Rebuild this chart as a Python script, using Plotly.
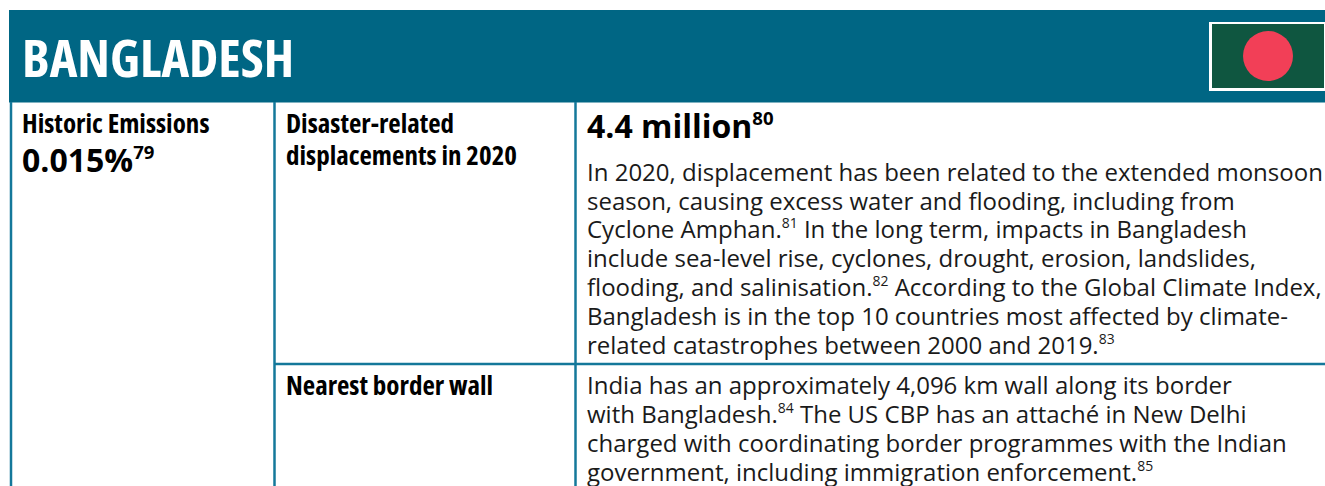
import plotly.graph_objects as go

# text content
country = "BANGLADESH"
emissions_label = "Historic Emissions"
emissions_value = "0.015%"
emissions_note = "79"
displacement_label = ["Disaster-related", "displacements in 2020"]
displacement_value = "4.4 million"
displacement_note = "80"
displacement_lines = [
    "In 2020, displacement has been related to the extended monsoon",
    "season, causing excess water and flooding, including from",
    "Cyclone Amphan.[81] In the long term, impacts in Bangladesh",
    "include sea-level rise, cyclones, drought, erosion, landslides,",
    "flooding, and salinisation.[82] According to the Global Climate Index,",
    "Bangladesh is in the top 10 countries most affected by climate-",
    "related catastrophes between 2000 and 2019.[83]",
]
wall_label = "Nearest border wall"
wall_lines = [
    "India has an approximately 4,096 km wall along its border",
    "with Bangladesh.[84] The US CBP has an attaché in New Delhi",
    "charged with coordinating border programmes with the Indian",
    "government, including immigration enforcement.[85]",
]

HEADER = "#006684"
RULE = "#14789a"
BODY_FONT = "Open Sans"
NOTE_OPEN = '<sup><span style="font-size:83%">'  # plotly's sup is 70%, the notes are nearer 58%
NOTE_CLOSE = "</span></sup>"


def condensed(text):
    return f'<span style="font-stretch:75%">{text}</span>'


def notes_in(line):
    return line.replace("[", NOTE_OPEN).replace("]", NOTE_CLOSE)


fig = go.Figure()


def add_text(x, y, text, size, color="#1a1a1a", bold=False):
    # an anchor below the plot would hide the text, so push it down with yshift
    anchor_y = min(y, 480)
    fig.add_annotation(
        x=x, y=anchor_y, yshift=anchor_y - y, text=f"<b>{text}</b>" if bold else text,
        xref="x", yref="y", xanchor="left", yanchor="bottom", showarrow=False,
        align="left", borderpad=0,
        font=dict(family=BODY_FONT, size=size, color=color),
    )


# header band and flag
fig.add_shape(type="rect", x0=9, x1=1325, y0=10, y1=102.5, fillcolor=HEADER, line_width=0, layer="below")
fig.add_shape(type="rect", x0=1209, x1=1325, y0=22, y1=91, fillcolor="white", line_width=0)
fig.add_shape(type="rect", x0=1212, x1=1324, y0=24, y1=88, fillcolor="#0f5640", line_width=0)
fig.add_shape(type="circle", x0=1243, x1=1293, y0=31, y1=81, fillcolor="#f23f57", line_width=0)

# table rules
for rule_x in (11, 274.5, 575.5):
    fig.add_shape(type="line", x0=rule_x, x1=rule_x, y0=102, y1=486, line=dict(color=RULE, width=2.5))
fig.add_shape(type="line", x0=274, x1=1325, y0=364, y1=364, line=dict(color=RULE, width=2.5))

add_text(21, 93, condensed(country), 52.5, "white", True)
add_text(21, 142, condensed(emissions_label), 27, "black", True)
add_text(21, 182, notes_in(f"{emissions_value}[{emissions_note}]"), 32, "black", True)

for i, line in enumerate(displacement_label):
    add_text(285, 142 + i * 32, condensed(line), 27, "black", True)
add_text(586, 148, notes_in(f"{displacement_value}[{displacement_note}]"), 32, "black", True)
for i, line in enumerate(displacement_lines):
    add_text(586, 188.7 + i * 28.9, notes_in(line), 24)

add_text(285, 404, condensed(wall_label), 27, "black", True)
for i, line in enumerate(wall_lines):
    add_text(586, 401.5 + i * 29, notes_in(line), 24)

fig.update_layout(
    width=1325, height=486, margin=dict(l=0, r=0, t=0, b=0),
    paper_bgcolor="white", plot_bgcolor="white", showlegend=False,
)
fig.update_xaxes(range=[0, 1325], visible=False)
fig.update_yaxes(range=[486, 0], visible=False)

fig.write_html("out.html", config=dict(displayModeBar=False), post_script="document.body.style.margin='0';")
